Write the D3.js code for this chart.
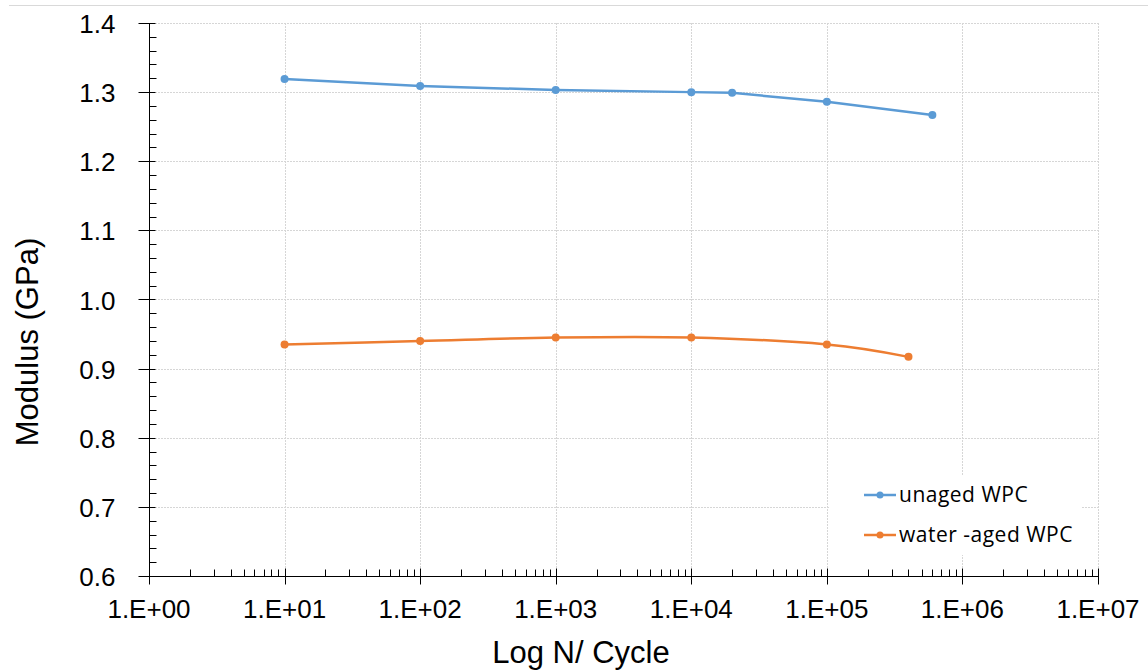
<!DOCTYPE html>
<html>
<head>
<meta charset="utf-8">
<script src="https://cdn.jsdelivr.net/npm/d3@7"></script>
<style>
body { margin: 0; background: #fff; }
svg text { font-family: "Liberation Sans", Arial, sans-serif; fill: #000; }
</style>
</head>
<body>
<div id="chart"></div>
<script>
// data
var unaged_n = [10, 100, 1000, 10000, 20000, 100000, 600000];
var unaged_mod = [1.319, 1.309, 1.303, 1.300, 1.299, 1.286, 1.267];
var aged_n = [10, 100, 1000, 10000, 100000, 400000];
var aged_mod = [0.935, 0.940, 0.945, 0.945, 0.935, 0.917];
var y_ticks = [0.6, 0.7, 0.8, 0.9, 1.0, 1.1, 1.2, 1.3, 1.4];
var x_decades = [1, 10, 100, 1000, 10000, 100000, 1000000, 10000000];
var series_names = ["unaged WPC", "water -aged WPC"];
var series_colours = ["#5B9BD5", "#ED7D31"];

var W = 1148, H = 670;
var pl = 149, pr = 1098, pt = 23, pb = 576;

var svg = d3.select("#chart").append("svg").attr("width", W).attr("height", H);

svg.append("line").attr("x1", 9).attr("x2", W).attr("y1", 5.5).attr("y2", 5.5)
    .attr("stroke", "#d9d9d9").attr("stroke-width", 1);

var x = d3.scaleLog().domain([1, 1e7]).range([pl, pr]);
var y = d3.scaleLinear().domain([0.6, 1.4]).range([pb, pt]);

// gridlines
svg.append("g").selectAll("line").data(y_ticks.slice(1)).enter().append("line")
    .attr("x1", pl).attr("x2", pr)
    .attr("y1", function (d) { return Math.round(y(d)) + 0.5; })
    .attr("y2", function (d) { return Math.round(y(d)) + 0.5; })
    .attr("stroke", "#d6d6d6").attr("stroke-dasharray", "2,1");
svg.append("g").selectAll("line").data(x_decades.slice(1)).enter().append("line")
    .attr("y1", pt).attr("y2", pb)
    .attr("x1", function (d) { return Math.round(x(d)) + 0.5; })
    .attr("x2", function (d) { return Math.round(x(d)) + 0.5; })
    .attr("stroke", "#d6d6d6").attr("stroke-dasharray", "2,1");

// minor ticks
var x_minor = [];
x_decades.slice(0, -1).forEach(function (d) {
    for (var k = 2; k <= 9; k++) x_minor.push(d * k);
});
var y_minor = [];
for (var i = 0; i < y_ticks.length - 1; i++) {
    for (var k = 1; k <= 4; k++) y_minor.push(y_ticks[i] + k * 0.02);
}

var xa = svg.append("g").attr("transform", "translate(0," + (pb + 0.5) + ")");
xa.append("line").attr("x1", pl).attr("x2", pr).attr("stroke", "#000");
xa.selectAll(".mn").data(x_minor).enter().append("line")
    .attr("x1", function (d) { return Math.round(x(d)) + 0.5; })
    .attr("x2", function (d) { return Math.round(x(d)) + 0.5; })
    .attr("y1", 0).attr("y2", -7).attr("stroke", "#000");
xa.selectAll(".mj").data(x_decades).enter().append("line")
    .attr("x1", function (d) { return Math.round(x(d)) + 0.5; })
    .attr("x2", function (d) { return Math.round(x(d)) + 0.5; })
    .attr("y1", -8).attr("y2", 8).attr("stroke", "#000");
xa.selectAll("text").data(x_decades).enter().append("text")
    .attr("x", function (d) { return x(d); })
    .attr("y", 41)
    .attr("text-anchor", "middle")
    .style("font-size", "26px")
    .text(function (d) { return "1.E+" + d3.format("02d")(Math.round(Math.log10(d))); });

var ya = svg.append("g").attr("transform", "translate(" + (pl + 0.5) + ",0)");
ya.append("line").attr("y1", pt).attr("y2", pb).attr("stroke", "#000");
ya.selectAll(".mn").data(y_minor).enter().append("line")
    .attr("y1", function (d) { return Math.round(y(d)) + 0.5; })
    .attr("y2", function (d) { return Math.round(y(d)) + 0.5; })
    .attr("x1", 0).attr("x2", 7).attr("stroke", "#000");
ya.selectAll(".mj").data(y_ticks).enter().append("line")
    .attr("y1", function (d) { return Math.round(y(d)) + 0.5; })
    .attr("y2", function (d) { return Math.round(y(d)) + 0.5; })
    .attr("x1", -11).attr("x2", 6).attr("stroke", "#000");
ya.selectAll("text").data(y_ticks).enter().append("text")
    .attr("x", -34)
    .attr("y", function (d) { return y(d) + 10; })
    .attr("text-anchor", "end")
    .style("font-size", "26px")
    .text(function (d) { return d3.format(".1f")(d); });

// titles
svg.append("text").attr("transform", "translate(38,342) rotate(-90)")
    .attr("text-anchor", "middle").style("font-size", "31px").text("Modulus (GPa)");
svg.append("text").attr("x", 581).attr("y", 663)
    .attr("text-anchor", "middle").style("font-size", "31px").text("Log N/ Cycle");

// series
var series = [
    { n: unaged_n, m: unaged_mod, curve: d3.curveLinear },
    { n: aged_n, m: aged_mod, curve: d3.curveCatmullRom.alpha(0) }
];
series.forEach(function (s, si) {
    var pts = s.n.map(function (d, i) { return [d, s.m[i]]; });
    var line = d3.line().curve(s.curve)
        .x(function (d) { return x(d[0]); })
        .y(function (d) { return y(d[1]); });
    svg.append("path").datum(pts).attr("d", line)
        .attr("fill", "none").attr("stroke", series_colours[si]).attr("stroke-width", 2.5);
    svg.append("g").selectAll("circle").data(pts).enter().append("circle")
        .attr("cx", function (d) { return x(d[0]); })
        .attr("cy", function (d) { return y(d[1]); })
        .attr("r", 4).attr("fill", series_colours[si]);
});

// legend
var lg = svg.append("g");
lg.append("rect").attr("x", 829).attr("y", 476).attr("width", 253).attr("height", 79).attr("fill", "#fff");
series_names.forEach(function (name, i) {
    var ly = 495 + i * 40;
    lg.append("line").attr("x1", 864).attr("x2", 896).attr("y1", ly).attr("y2", ly)
        .attr("stroke", series_colours[i]).attr("stroke-width", 2.5);
    lg.append("circle").attr("cx", 880).attr("cy", ly).attr("r", 3.5).attr("fill", series_colours[i]);
    lg.append("text").attr("x", 899).attr("y", ly + 7)
        .style("font-family", "'Open Sans', sans-serif").style("font-size", "21px")
        .style("letter-spacing", "0.5px")
        .attr("fill", "#222").text(name);
});
</script>
</body>
</html>
